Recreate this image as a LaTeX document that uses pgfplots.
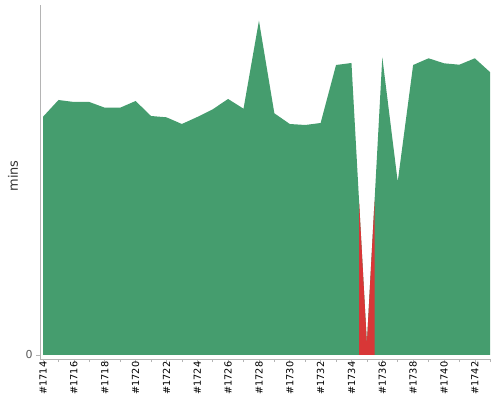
\documentclass[border=0pt]{standalone}
\usepackage{pgfplots}
\pgfplotsset{compat=1.18}
\usepackage{fontspec}
\setmainfont{DejaVu Sans}
\definecolor{okgreen}{RGB}{69,157,110}
\definecolor{failred}{RGB}{216,55,55}
\definecolor{axgray}{RGB}{180,180,180}
\definecolor{lblgray}{RGB}{90,90,90}
\begin{document}
\begin{tikzpicture}
\begin{axis}[
  at={(0,0)}, anchor=south west,
  scale only axis,
  width=451bp, height=354bp,
  xmin=1713.8, xmax=1743.05,
  ymin=-4, ymax=350,
  axis x line=bottom, axis y line=left,
  axis line style={axgray, line width=0.8pt, -},
  xtick={1714,1716,...,1742},
  xticklabels={\#1714,\#1716,\#1718,\#1720,\#1722,\#1724,\#1726,\#1728,\#1730,\#1732,\#1734,\#1736,\#1738,\#1740,\#1742},
  minor xtick={1715,1717,...,1743},
  xticklabel style={rotate=90, anchor=east, inner sep=0.5bp, font=\fontsize{9.8}{12}\selectfont, text=black},
  xticklabel shift=-2bp,
  ytick={0}, yticklabels={0},
  yticklabel style={font=\fontsize{11}{12}\selectfont, text=lblgray},
  tick style={axgray, line width=0.6pt},
  tick align=outside,
  major tick length=4bp, minor tick length=3bp,
  every axis y label/.style={at={(axis description cs:0,0.517)}, xshift=-27bp, rotate=90, anchor=center,
     font=\fontsize{13}{15}\selectfont, text=black!80},
  ylabel={mins},
  clip=true,
]
\addplot[draw=none, fill=okgreen] coordinates {
(1714,238.3) (1715,255) (1716,253) (1717,253) (1718,247.3) (1719,247.3)
(1720,254) (1721,239) (1722,237.7) (1723,231) (1724,238) (1725,245.7)
(1726,256) (1727,246.3) (1728,334.3) (1729,241.7) (1730,231) (1731,230)
(1732,232) (1733,290) (1734,292) (1735,12) (1736,297.7) (1737,173.3)
(1738,290) (1739,296.7) (1740,291.7) (1741,290.3) (1742,296.7) (1743,282.7)
} \closedcycle;
\addplot[draw=none, fill=failred] coordinates {
(1734.5,152) (1735,12) (1735.5,154.9)
} \closedcycle;
\end{axis}
\pgfresetboundingbox
\path (-40bp,-41bp) rectangle (460bp,359bp);
\end{tikzpicture}
\end{document}
